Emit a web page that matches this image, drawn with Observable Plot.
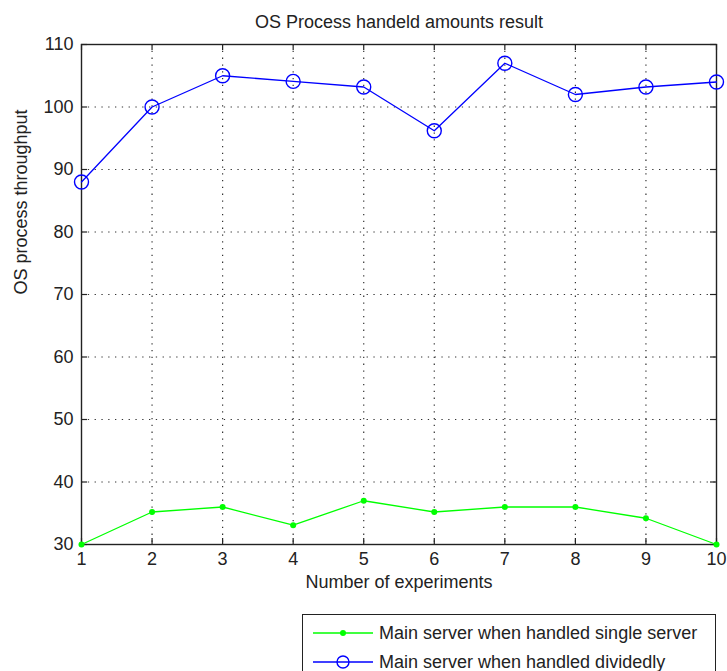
<!DOCTYPE html>
<html>
<head>
<meta charset="utf-8">
<script src="https://cdn.jsdelivr.net/npm/d3@7"></script>
<script src="https://cdn.jsdelivr.net/npm/@observablehq/plot@0.6"></script>
<style>
  html, body { margin: 0; padding: 0; background: #fff; }
  #wrap { position: relative; width: 727px; height: 671px; overflow: hidden; font-family: "Liberation Sans", Arial, sans-serif; }
  #legend { position: absolute; left: 302px; top: 614px; width: 414px; height: 80px; border: 1px solid #222; background: #fff; box-sizing: border-box; }
  .row { position: absolute; left: 0; height: 26px; display: flex; align-items: center; font-size: 18px; color: #222; white-space: nowrap; }
  .row svg { margin-left: 10px; margin-right: 6px; }
</style>
</head>
<body>
<div id="wrap"></div>
<script>
const experiments = [1, 2, 3, 4, 5, 6, 7, 8, 9, 10];
const singleServer = [30, 35.2, 36, 33.1, 37, 35.2, 36, 36, 34.2, 30];
const dividedly = [88, 100, 105, 104.1, 103.2, 96.2, 107, 102, 103.2, 104];
const xTicks = [1, 2, 3, 4, 5, 6, 7, 8, 9, 10];
const yTicks = [30, 40, 50, 60, 70, 80, 90, 100, 110];
const seriesNames = ["Main server when handled single server", "Main server when handled dividedly"];
const chartTitle = "OS Process handeld amounts result";
const xLabel = "Number of experiments";
const yLabel = "OS process throughput";

const single = experiments.map((x, i) => ({x, y: singleServer[i]}));
const divided = experiments.map((x, i) => ({x, y: dividedly[i]}));

const W = 727, H = 671, mT = 44, mB = 127, mL = 81, mR = 11;
const pw = W - mL - mR, ph = H - mT - mB;
const tick = 6;
const green = "#00ff00", blue = "#0000ff", ink = "#222";

const chart = Plot.plot({
  width: W, height: H,
  marginTop: mT, marginBottom: mB, marginLeft: mL, marginRight: mR,
  x: {domain: [1, 10]},
  y: {domain: [30, 110]},
  style: {fontFamily: "'Liberation Sans', Arial, sans-serif", fontSize: "18px", color: ink, background: "#fff", overflow: "visible"},
  marks: [
    Plot.ruleX(xTicks.slice(1, -1), {stroke: "#333", strokeWidth: 1.2, strokeDasharray: "1.3,5.5"}),
    Plot.ruleY(yTicks.slice(1, -1), {stroke: "#333", strokeWidth: 1.2, strokeDasharray: "1.3,5.5"}),
    Plot.ruleX(xTicks, {stroke: ink, strokeWidth: 1.2, insetTop: ph - tick}),
    Plot.ruleX(xTicks, {stroke: ink, strokeWidth: 1.2, insetBottom: ph - tick}),
    Plot.ruleY(yTicks, {stroke: ink, strokeWidth: 1.2, insetRight: pw - tick}),
    Plot.ruleY(yTicks, {stroke: ink, strokeWidth: 1.2, insetLeft: pw - tick}),
    Plot.frame({stroke: ink, strokeWidth: 1.4}),
    Plot.line(single, {x: "x", y: "y", stroke: green, strokeWidth: 1.3}),
    Plot.dot(single, {x: "x", y: "y", r: 3, fill: green, stroke: "none"}),
    Plot.line(divided, {x: "x", y: "y", stroke: blue, strokeWidth: 1.3}),
    Plot.dot(divided, {x: "x", y: "y", r: 7, fill: "none", stroke: blue, strokeWidth: 1.4}),
    Plot.axisX({ticks: xTicks, tickSize: 0, tickPadding: 8, fontSize: 18, tickFormat: d => String(d), label: null}),
    Plot.axisY({ticks: yTicks, tickSize: 0, tickPadding: 8, fontSize: 18, tickFormat: d => String(d), label: null}),
    Plot.text([chartTitle], {frameAnchor: "top", lineAnchor: "middle", dy: -22, fontSize: 18, fill: ink}),
    Plot.text([xLabel], {frameAnchor: "bottom", lineAnchor: "middle", dy: 38, fontSize: 18, fill: ink}),
    Plot.text([yLabel], {frameAnchor: "left", dx: -60, rotate: -90, fontSize: 18, fill: ink})
  ]
});

const wrap = document.getElementById("wrap");
wrap.appendChild(chart);

const legend = document.createElement("div");
legend.id = "legend";
const sw = [
  `<svg width="60" height="14"><line x1="0" y1="7" x2="60" y2="7" stroke="${green}" stroke-width="1.3"/><circle cx="30" cy="7" r="3" fill="${green}"/></svg>`,
  `<svg width="60" height="18"><line x1="0" y1="9" x2="60" y2="9" stroke="${blue}" stroke-width="1.3"/><circle cx="30" cy="9" r="6" fill="none" stroke="${blue}" stroke-width="1.4"/></svg>`
];
seriesNames.forEach((name, i) => {
  const row = document.createElement("div");
  row.className = "row";
  row.style.top = (5 + i * 29) + "px";
  row.innerHTML = sw[i] + `<span>${name}</span>`;
  legend.appendChild(row);
});
wrap.appendChild(legend);
</script>
</body>
</html>
